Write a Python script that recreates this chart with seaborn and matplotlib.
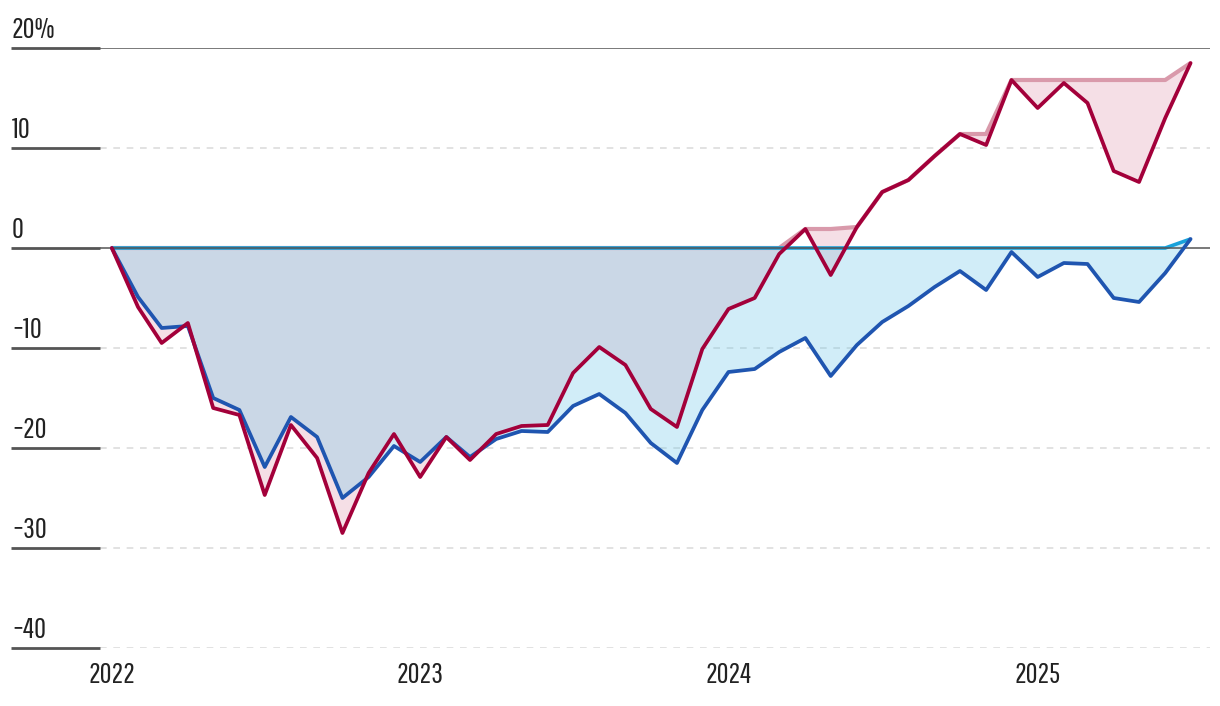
import numpy as np
import pandas as pd
import matplotlib.pyplot as plt
import matplotlib.transforms as mtransforms
import seaborn as sns

# monthly cumulative return, %, Jan 2022 - Jul 2025
dates = pd.date_range("2022-01-01", periods=43, freq="MS")
red_values = [
    0, -5.9, -9.5, -7.5, -16.0, -16.7, -24.7, -17.7, -21.0, -28.5,
    -22.5, -18.6, -22.9, -18.9, -21.2, -18.6, -17.8, -17.7, -12.5, -9.9,
    -11.7, -16.1, -17.9, -10.1, -6.1, -5.0, -0.6, 1.9, -2.7, 2.1,
    5.6, 6.8, 9.2, 11.4, 10.3, 16.8, 14.0, 16.5, 14.5, 7.7,
    6.6, 13.0, 18.5,
]
blue_values = [
    0, -4.9, -8.0, -7.8, -15.0, -16.2, -21.9, -16.9, -18.9, -25.0,
    -22.9, -19.8, -21.4, -18.9, -20.9, -19.1, -18.3, -18.4, -15.8, -14.6,
    -16.5, -19.5, -21.5, -16.2, -12.4, -12.1, -10.4, -9.0, -12.8, -9.7,
    -7.4, -5.8, -3.9, -2.3, -4.2, -0.4, -2.9, -1.5, -1.6, -5.0,
    -5.4, -2.5, 0.9,
]
y_ticks = [20, 10, 0, -10, -20, -30, -40]
y_labels = ["20%", "10", "0", "\u221210", "\u221220", "\u221230", "\u221240"]
x_ticks = pd.to_datetime(["2022-01-01", "2023-01-01", "2024-01-01", "2025-01-01"])
x_labels = ["2022", "2023", "2024", "2025"]

RED = "#a3003a"
BLUE = "#1f55b0"
RED_PEAK = "#d99aab"
BLUE_PEAK = "#18a2db"
TEXT = "#222222"
FS = 21

sns.set_theme(style="white")
plt.rcParams["font.family"] = ["Pathway Gothic One", "DejaVu Sans"]

df = pd.DataFrame({"date": dates, "red": red_values, "blue": blue_values})
df["red_peak"] = np.maximum.accumulate(df["red"])
df["blue_peak"] = np.maximum.accumulate(df["blue"])

fig = plt.figure(figsize=(12.2, 7.06), dpi=100)
ax = fig.add_axes([100 / 1220, 58 / 706, 1110 / 1220, 600 / 706])

# area between each series and its running peak
ax.fill_between(df["date"], df["red_peak"], df["red"], color="#f5dfe6", lw=0, zorder=1)
ax.fill_between(df["date"], df["blue_peak"], df["blue"], color="#69c6e8",
                alpha=0.3, lw=0, zorder=2)

for v in y_ticks:
    if v in (20, 0):
        continue
    ax.axhline(v, color="#dddddd", lw=1.2, ls=(0, (4, 4)), zorder=0.5)
ax.axhline(20, color="#555555", lw=1.1, zorder=3)

ax.plot(df["date"], df["red_peak"], color=RED_PEAK, lw=3, zorder=3,
        solid_capstyle="butt")
ax.plot(df["date"], df["blue_peak"], color=BLUE_PEAK, lw=2.6, zorder=3,
        solid_capstyle="butt")
ax.axhline(0, color="#555555", lw=1.1, zorder=3.5)

sns.lineplot(data=df, x="date", y="blue", color=BLUE, lw=2.7, ax=ax, zorder=4)
sns.lineplot(data=df, x="date", y="red", color=RED, lw=2.7, ax=ax, zorder=5)

ax.set_xlim(pd.Timestamp("2021-12-18"), pd.Timestamp("2025-07-24"))
ax.set_ylim(-40, 20)
for s in ax.spines.values():
    s.set_visible(False)

# y labels sit above short rules left of the plot
trans = ax.get_yaxis_transform()
off = mtransforms.ScaledTranslation(0, 7 / 72, fig.dpi_scale_trans)
for v, lab in zip(y_ticks, y_labels):
    ax.plot([-89 / 1110, 0], [v, v], color="#555555", lw=2, transform=trans,
            clip_on=False, solid_capstyle="butt")
    ax.text(-88 / 1110, v, lab, transform=trans + off, ha="left", va="baseline",
            fontsize=FS, color=TEXT)
ax.set_yticks([])

ax.set_xticks(x_ticks)
ax.set_xticklabels(x_labels, fontsize=FS, color=TEXT)
ax.tick_params(axis="x", length=0, pad=10)
ax.set_xlabel("")
ax.set_ylabel("")

fig.savefig("out.png", dpi=100)
